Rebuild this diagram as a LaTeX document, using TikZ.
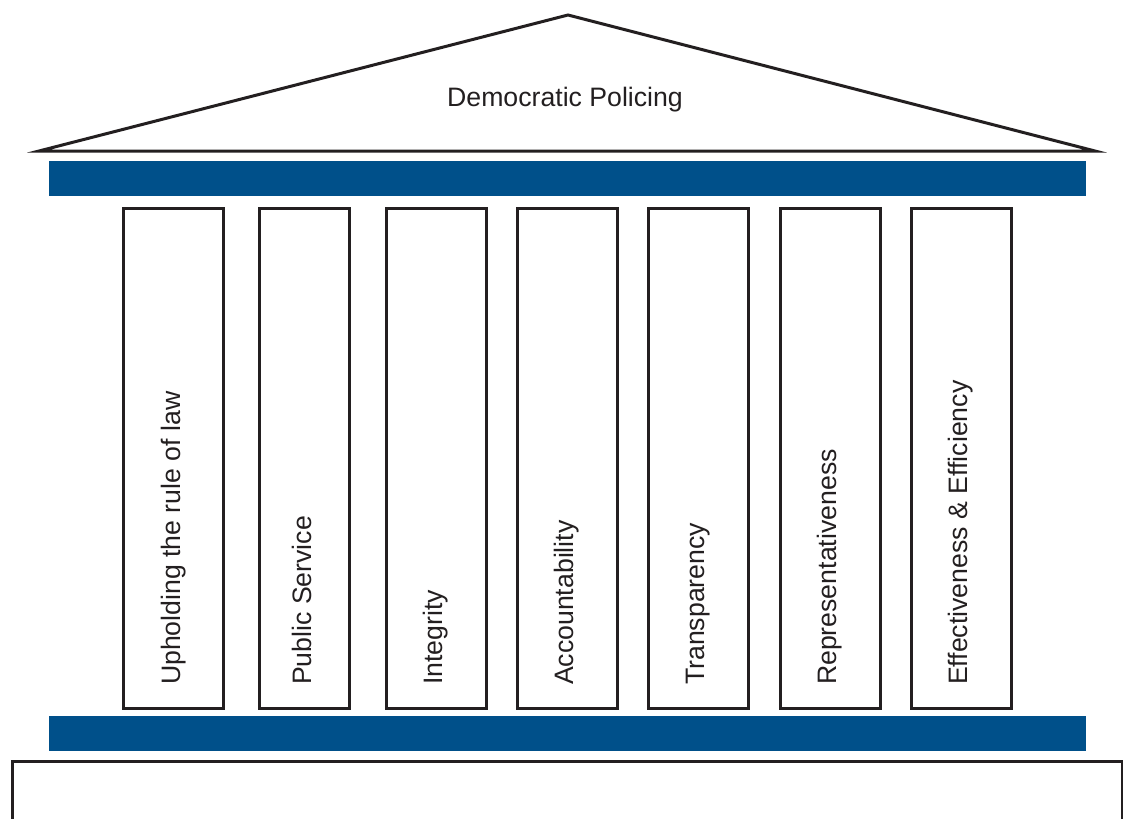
\documentclass[tikz,border=0pt]{standalone}
\usepackage{fontspec}
\setmainfont{Liberation Sans}
\usetikzlibrary{positioning}
\definecolor{pillarblue}{RGB}{0,80,138}
\definecolor{ink}{RGB}{35,31,32}

\begin{document}
\begin{tikzpicture}
[x=0.75pt, y=-0.75pt,
  every node/.style={font=\fontsize{20}{24}\selectfont, text=ink},
  band/.style={fill=pillarblue, minimum width=777.75pt, minimum height=26pt, inner sep=0pt},
  pillar/.style={draw=ink, line width=2.25pt, minimum width=75pt, minimum height=375pt, inner sep=0pt},
  pillartext/.style={rotate=90, anchor=west, inner sep=0pt, text height=14.4pt, text depth=4.2pt}]
  \clip (0,0) rectangle (1123,818);
  % roof
  \coordinate (roofL) at (39,151);
  \coordinate (roofT) at (568,15);
  \coordinate (roofR) at (1095,151);
  \draw[draw=ink, line width=2.25pt, miter limit=10] (roofL) -- (roofT) -- (roofR) -- cycle;
  \node (title) at (565,99.5) {Democratic Policing};
  % beams
  \node[band] (top) at (567.5,178.5) {};
  \node[band] (bottom) at (567.5,733.5) {};
  % pillars
  \node[pillar] (rule) at (173.7,458.4) {};
  \node[pillar, minimum width=67.5pt] (service) at (304.8,458.4) {};
  \node[pillar] (integrity) at (436,458.4) {};
  \node[pillar] (account) at (567,458.4) {};
  \node[pillar] (transp) at (698,458.4) {};
  \node[pillar] (repr) at (830,458.4) {};
  \node[pillar] (effect) at (961,458.4) {};
  \node[pillartext] (ruleT) at ([yshift=18.5pt]rule.south) {Upholding the rule of law};
  \node[pillartext] (serviceT) at ([yshift=18.5pt]service.south) {Public Service};
  \node[pillartext] (integrityT) at ([yshift=18.5pt]integrity.south) {Integrity};
  \node[pillartext] (accountT) at ([yshift=18.5pt]account.south) {Accountability};
  \node[pillartext] (transpT) at ([yshift=18.5pt]transp.south) {Transparency};
  \node[pillartext] (reprT) at ([yshift=18.5pt]repr.south) {Representativeness};
  \node[pillartext] (effectT) at ([yshift=18.5pt]effect.south) {Effectiveness \& Efficiency};
  % base
  \node[draw=ink, line width=2.25pt, minimum width=832.5pt, minimum height=60pt, inner sep=0pt] (base) at (567,801.8) {};
\end{tikzpicture}
\end{document}
